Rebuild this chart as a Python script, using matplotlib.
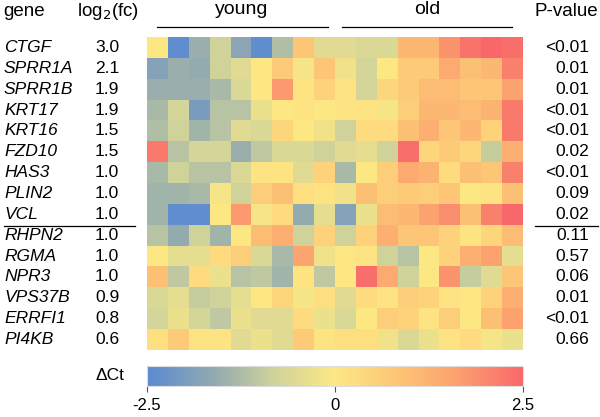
import numpy as np
import matplotlib
matplotlib.use("Agg")
import matplotlib.pyplot as plt
from matplotlib.colors import LinearSegmentedColormap

plt.rcParams['font.family'] = ['Liberation Sans', 'DejaVu Sans']

# gene table
genes = ["CTGF", "SPRR1A", "SPRR1B", "KRT17", "KRT16", "FZD10", "HAS3", "PLIN2",
         "VCL", "RHPN2", "RGMA", "NPR3", "VPS37B", "ERRFI1", "PI4KB"]
log2fc = ["3.0", "2.1", "1.9", "1.9", "1.5", "1.5", "1.0", "1.0",
          "1.0", "1.0", "1.0", "1.0", "0.9", "0.8", "0.6"]
pvals = ["<0.01", "0.01", "0.01", "<0.01", "<0.01", "0.02", "<0.01", "0.09",
         "0.02", "0.11", "0.57", "0.06", "0.01", "<0.01", "0.66"]

# delta Ct per sample, 9 young then 9 old
young = [
    [0.0, -2.4, -1.5, -0.8, -1.7, -2.4, -1.2, 0.8, -0.5],
    [-1.8, -1.5, -1.6, -0.8, -0.5, 0.0, 0.7, -0.1, 0.8],
    [-1.5, -1.5, -1.5, -1.3, -0.6, 0.0, 1.7, 0.1, 0.5],
    [-1.3, -0.7, -2.0, -1.1, -1.1, -0.3, 0.0, 0.1, 0.0],
    [-1.2, -0.8, -1.4, -1.1, -0.5, -0.6, 0.4, 0.0, -0.2],
    [2.2, -1.1, -0.7, -0.7, -1.5, -1.0, -0.6, -0.6, -0.8],
    [-1.3, -0.8, -1.1, -1.1, -0.6, 0.1, 0.1, -0.5, 0.5],
    [-1.4, -1.4, -1.3, -0.1, -0.8, 0.6, 0.9, 0.2, 0.1],
    [-1.4, -2.4, -2.4, 0.0, 1.7, -0.1, 0.3, -1.6, -0.4],
    [-1.1, -1.6, -0.8, -1.4, 0.0, 1.0, 1.3, -0.8, 0.5],
    [0.0, -0.4, -0.4, 0.3, 0.6, -0.6, -1.3, 1.5, -0.2],
    [0.9, -1.0, 0.3, -0.3, -1.1, -1.0, -1.4, 0.1, -1.0],
    [-0.6, -0.4, -0.9, -0.8, -0.4, 0.0, 0.4, -0.1, 0.2],
    [-0.7, -0.3, -0.7, -1.0, -0.3, -0.5, -0.5, 0.3, -0.3],
    [0.2, 0.7, 0.1, 0.1, -0.5, -0.3, -0.5, 0.7, 0.1],
]
old = [
    [-0.5, -0.6, -0.6, 1.1, 1.1, 1.8, 2.3, 2.5, 2.4],
    [-0.2, -0.7, 0.0, 0.7, 0.7, 1.4, 0.9, 1.1, 2.1],
    [0.1, -0.7, 0.4, 0.7, 1.0, 1.0, 0.8, 0.8, 1.6],
    [0.1, 0.1, -0.1, 0.6, 1.1, 1.1, 1.0, 1.2, 2.2],
    [-0.8, 0.3, 0.3, 0.9, 1.3, 0.8, 1.1, 0.5, 2.2],
    [-0.5, -0.4, -0.8, 2.4, 0.4, 0.7, 0.4, -0.9, 1.3],
    [-1.3, 0.0, 0.6, 1.4, 1.2, 0.3, 0.9, 0.8, 2.1],
    [-0.2, 0.9, 0.6, 0.7, 0.6, 0.8, 0.0, 0.1, 0.9],
    [-1.8, -0.3, 1.0, 1.1, 1.6, 1.9, 0.9, 2.1, 2.5],
    [-0.8, 0.5, 1.3, 0.8, 0.8, 0.5, 0.1, 0.4, 1.0],
    [0.0, 0.1, -0.8, -1.1, 0.0, 0.5, 1.3, 1.6, -0.4],
    [0.0, 2.4, 1.4, -0.8, 0.0, 1.8, -0.9, -0.5, 0.8],
    [-0.5, 0.3, 0.1, 0.6, 0.5, 0.1, 0.0, 0.5, 1.3],
    [-0.6, 0.0, 0.6, 0.5, 0.1, 0.6, 0.0, 0.9, 1.6],
    [0.2, 0.2, -0.2, -0.6, -0.3, 0.1, 0.3, -0.1, -0.3],
]
data = np.hstack([np.array(young), np.array(old)])

cmap = LinearSegmentedColormap.from_list("dct", [
    (0.00, "#5a8ad2"),
    (0.18, "#93aab0"),
    (0.34, "#cfd39b"),
    (0.50, "#fde884"),
    (0.66, "#fdc676"),
    (0.82, "#fca26f"),
    (1.00, "#f8686a"),
])

W, H = 600, 417
fig = plt.figure(figsize=(6, 4.17), dpi=100)

def fx(px):
    return px / W

def fy(py):
    return 1 - py / H

# heatmap
ax = fig.add_axes([fx(147), fy(350), fx(523) - fx(147), fy(37) - fy(350)])
im = ax.imshow(data, cmap=cmap, vmin=-2.5, vmax=2.5, aspect='auto',
               interpolation='nearest')
ax.set_axis_off()

# colour bar
cax = fig.add_axes([fx(147), fy(386), fx(523) - fx(147), fy(366) - fy(386)])
cb = fig.colorbar(im, cax=cax, orientation='horizontal', ticks=[-2.5, 0, 2.5])
cb.ax.set_xticklabels(["-2.5", "0", "2.5"])
cb.outline.set_edgecolor("#dddddd")
cb.outline.set_linewidth(0.8)
cax.tick_params(axis='x', length=4, width=0.8, color='#555555', pad=5,
                labelsize=12)
fig.text(fx(110), fy(375), "ΔCt", fontsize=12.5, ha='center', va='center')

fs = 12.5
row_h = (350 - 37) / len(genes)
for i, g in enumerate(genes):
    yc = 37 + (i + 0.5) * row_h
    fig.text(fx(4), fy(yc), g, fontsize=fs, style='italic', ha='left', va='center')
    fig.text(fx(107), fy(yc), log2fc[i], fontsize=fs, ha='center', va='center')
    fig.text(fx(589), fy(yc), pvals[i], fontsize=fs, ha='right', va='center')

# headers
fig.text(fx(3), fy(11), "gene", fontsize=13.5, ha='left', va='center')
fig.text(fx(108), fy(11), r"log$_2$(fc)", fontsize=13.5, ha='center', va='center')
fig.text(fx(566), fy(11), "P-value", fontsize=13.5, ha='center', va='center')
fig.text(fx(242), fy(10), "young", fontsize=14, ha='center', va='center')
fig.text(fx(427), fy(10), "old", fontsize=14, ha='center', va='center')

# group lines and separator
for x0, x1, y in [(157, 328, 27), (342, 512, 27), (4, 135, 226), (535, 598, 226)]:
    fig.add_artist(plt.Line2D([fx(x0), fx(x1)], [fy(y), fy(y)], color='black',
                              linewidth=0.9))

fig.savefig("out.png", dpi=100)
